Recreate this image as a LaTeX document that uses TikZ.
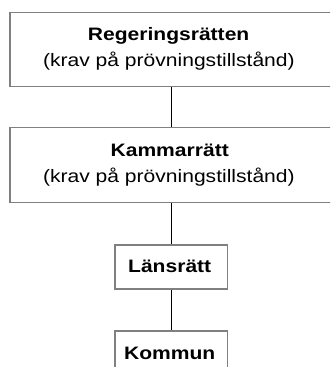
\documentclass[tikz,border=0pt]{standalone}
\usepackage{fontspec}
\setmainfont[FakeStretch=1.17]{Liberation Sans}
\begin{document}
\begin{tikzpicture}[x=1pt,y=-1pt,
  box/.style={draw=black!50, line width=1.3pt, fill=white, rectangle, inner sep=0pt},
  lbl/.style={anchor=base, inner sep=0pt, font=\fontsize{18}{26}\selectfont},
  bold/.style={lbl, font=\fontsize{18}{26}\selectfont\bfseries},
  conn/.style={draw=black, line width=1.5pt}]
\clip (0,0) rectangle (330,367);
\fill[white] (0,0) rectangle (330,367);
% boxes
\node[box, minimum width=324pt, minimum height=74pt] (b1) at (172,49.7) {};
\node[box, minimum width=324pt, minimum height=75pt] (b2) at (172,164.8) {};
\node[box, minimum width=112.7pt, minimum height=44pt] (b3) at (171.35,267) {};
\node[box, minimum width=112.7pt, minimum height=60pt] (b4) at (171.35,361) {};
% connectors
\draw[conn] (b1.south -| 171.7,0) -- (b2.north -| 171.7,0);
\draw[conn] (b2.south -| 171.7,0) -- (b3.north -| 171.7,0);
\draw[conn] (b3.south -| 171.7,0) -- (b4.north -| 171.7,0);
% texts
\node[bold] (t1) at (168.6,40) {Regeringsrätten};
\node[lbl] (t1b) at (168.9,66) {(krav på prövningstillstånd)};
\node[bold] (t2) at (169.7,156.7) {Kammarrätt};
\node[lbl] (t2b) at (168.9,182.5) {(krav på prövningstillstånd)};
\node[bold] (t3) at (169.7,272.3) {Länsrätt};
\node[bold] (t4) at (169.7,359) {Kommun};
\end{tikzpicture}
\end{document}
